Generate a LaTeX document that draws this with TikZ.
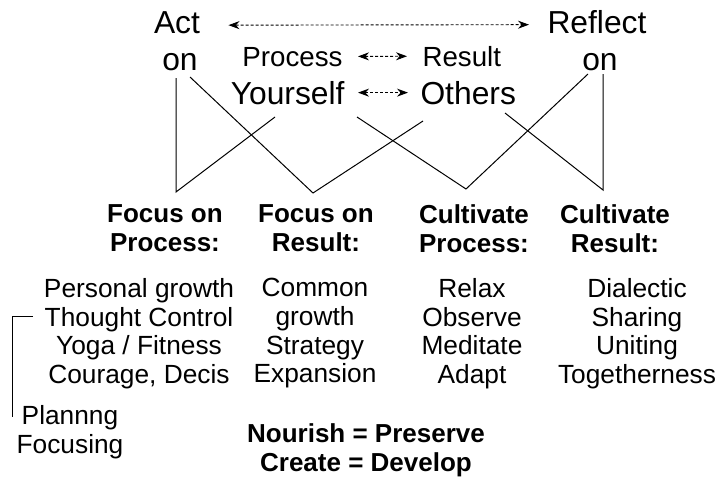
\documentclass[tikz,border=0pt]{standalone}
\usepackage{fontspec}
\setmainfont{Liberation Sans}
\usetikzlibrary{arrows.meta}

\begin{document}
\begin{tikzpicture}[x=1pt, y=-1pt, line width=1pt,
  every node/.style={inner sep=0pt, align=center},
  big/.style={font=\fontsize{31.8}{38.5}\selectfont},
  mid/.style={font=\fontsize{27.7}{33}\selectfont},
  head/.style={anchor=north, font=\bfseries\fontsize{26}{29.5}\selectfont},
  items/.style={anchor=north, font=\fontsize{26.3}{28.7}\selectfont},
  both/.style={{Stealth[length=11pt,width=8pt]}-{Stealth[length=11pt,width=8pt]},
    dash pattern=on 3pt off 2pt, line width=0.9pt}]
  \useasboundingbox (0,0) rectangle (721,479);

  % top words
  \node[big, anchor=base] (act) at (177,33) {Act};
  \node[big, anchor=base] (acton) at (180,70) {on};
  \node[big, anchor=base] (refl) at (597,33) {Reflect};
  \node[big, anchor=base] (reflon) at (600,70) {on};
  \node[mid, anchor=base east] (proc) at (343,66) {Process};
  \node[mid, anchor=base west] (res) at (422,66) {Result};
  \node[big, anchor=base east] (you) at (345,104) {Yourself};
  \node[big, anchor=base west] (oth) at (420,104) {Others};

  \draw[both, shorten <=28pt, shorten >=18pt] ([yshift=-3pt]act.east) -- ([yshift=-3pt]refl.west);
  \draw[both, shorten <=15pt, shorten >=15pt] (proc) -- (res);
  \draw[both, shorten <=13pt, shorten >=12pt] (you) -- (oth);

  % headings and lists
  \node[head] (fp) at (165,204) {Focus on\\Process:};
  \node[head] (fr) at (316,204) {Focus on\\Result:};
  \node[head] (cp) at (474,204) {Cultivate\\Process:};
  \node[head] (cr) at (615,204) {Cultivate\\Result:};

  \node[items] (fpl) at (139,278) {Personal growth\\Thought Control\\Yoga / Fitness\\Courage, Decis};
  \node[items] (frl) at (315,278) {Common\\growth\\Strategy\\Expansion};
  \node[items] (cpl) at (472,278) {Relax\\Observe\\Meditate\\Adapt};
  \node[items] (crl) at (637,278) {Dialectic\\Sharing\\Uniting\\Togetherness};
  \node[items] (plan) at (70,405) {Plannng\\Focusing};
  \node[head] (motto) at (366,423) {Nourish = Preserve\\Create = Develop};

  % line ends
  \coordinate (actL) at (176,78);
  \coordinate (actR) at (190,77);
  \coordinate (youL) at (275,117);
  \coordinate (youR) at (357,117);
  \coordinate (othL) at (423,121);
  \coordinate (othR) at (505,113);
  \coordinate (refL) at (588,74);
  \coordinate (refR) at (603,74);
  \coordinate (fpV) at (176,192);
  \coordinate (frV) at (313,193);
  \coordinate (cpV) at (466,189);
  \coordinate (crV) at (603,190);

  \draw (actL) -- (fpV) -- (youL);
  \draw (actR) -- (frV) -- (othL);
  \draw (youR) -- (cpV) -- (refL);
  \draw (othR) -- (crV) -- (refR);

  % bracket
  \coordinate (brTop) at (33,316);
  \coordinate (brEnd) at (12,417);
  \draw (brTop) -| (brEnd);
\end{tikzpicture}
\end{document}
